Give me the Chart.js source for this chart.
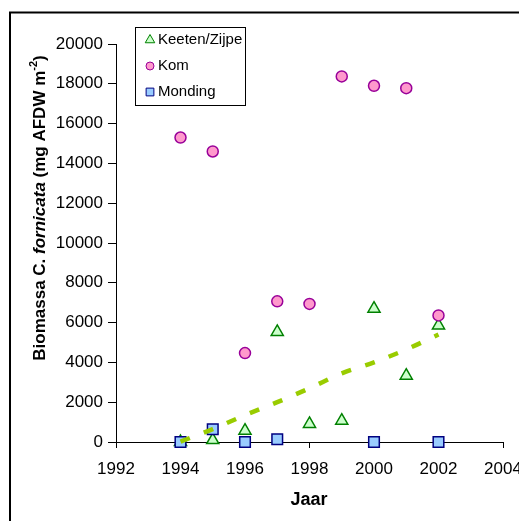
<!DOCTYPE html>
<html>
<head>
<meta charset="utf-8">
<title>Biomassa C. fornicata</title>
<script src="https://cdn.jsdelivr.net/npm/chart.js@4/dist/chart.umd.min.js"></script>
<style>
    html, body { margin: 0; padding: 0; background: #fff; }
    #chart { display: block; }
</style>
</head>
<body>
<canvas id="chart" width="519" height="521"></canvas>
<script>
const FONT = "Arial, 'Liberation Sans', sans-serif";

// sampled years
const years = [1994, 1995, 1996, 1997, 1998, 1999, 2000, 2001, 2002];
const keetenValues = [0, 100, 570, 5530, 910, 1070, 6700, 3330, 5860];
const komValues = [15300, 14600, 4470, 7070, 6940, 18370, 17900, 17780, 6360];
const mondingYears = [1994, 1995, 1996, 1997, 2000, 2002];
const mondingValues = [0, 640, 0, 140, 0, 0];
// trend through the Keeten/Zijpe series
const trendValues = [20, 650, 1350, 2000, 2700, 3450, 4000, 4650, 5400];

const xMin = 1992, xMax = 2004, xStep = 2;
const yMin = 0, yMax = 20000, yStep = 2000;

function toPoints(xs, ys) {
    return ys.map((v, i) => ({ x: xs[i], y: v }));
}

// white background with the outer frame (top and left edges only)
const framePlugin = {
    id: 'frame',
    beforeDraw(chart) {
        const ctx = chart.ctx;
        ctx.save();
        ctx.fillStyle = '#fff';
        ctx.fillRect(0, 0, chart.width, chart.height);
        ctx.strokeStyle = '#000';
        ctx.lineWidth = 2;
        ctx.beginPath();
        ctx.moveTo(10, chart.height + 5);
        ctx.lineTo(10, 12.5);
        ctx.lineTo(chart.width + 5, 12.5);
        ctx.stroke();
        ctx.restore();
    }
};

// legend box inside the plot area
const boxLegend = {
    id: 'boxLegend',
    afterDatasetsDraw(chart) {
        const ctx = chart.ctx;
        const box = { x: 135.5, y: 27.5, w: 110, h: 78 };
        ctx.save();
        ctx.fillStyle = '#fff';
        ctx.fillRect(box.x, box.y, box.w, box.h);
        ctx.strokeStyle = '#000';
        ctx.lineWidth = 1;
        ctx.strokeRect(box.x, box.y, box.w, box.h);

        const items = [0, 1, 2];
        const sizes = [5.5, 4, 5.5];
        items.forEach((idx, i) => {
            const ds = chart.data.datasets[idx];
            const y = 40 + i * 26;
            ctx.fillStyle = ds.backgroundColor;
            ctx.strokeStyle = ds.borderColor;
            Chart.helpers.drawPoint(ctx, {
                pointStyle: ds.pointStyle,
                radius: sizes[i],
                borderWidth: 1.5,
                rotation: 0
            }, 150, y);
            ctx.fillStyle = '#000';
            ctx.font = '15px ' + FONT;
            ctx.textAlign = 'left';
            ctx.textBaseline = 'middle';
            ctx.fillText(ds.label, 158, y);
        });
        ctx.restore();
    }
};

// axis titles, the y title mixes bold, italic and a superscript
const axisTitles = {
    id: 'axisTitles',
    afterDraw(chart) {
        const ctx = chart.ctx;
        ctx.save();
        ctx.fillStyle = '#000';
        ctx.textBaseline = 'middle';

        ctx.font = 'bold 18px ' + FONT;
        ctx.textAlign = 'center';
        ctx.fillText('Jaar', 309, 500);

        const parts = [
            { t: 'Biomassa C. ', f: 'bold 17px ' + FONT, dy: 0 },
            { t: 'fornicata', f: 'italic bold 17px ' + FONT, dy: 0 },
            { t: ' (mg AFDW m', f: 'bold 17px ' + FONT, dy: 0 },
            { t: '-2', f: 'bold 11px ' + FONT, dy: -6 },
            { t: ')', f: 'bold 17px ' + FONT, dy: 0 }
        ];
        let total = 0;
        parts.forEach(p => { ctx.font = p.f; p.w = ctx.measureText(p.t).width; total += p.w; });

        ctx.translate(40, 208);
        ctx.rotate(-Math.PI / 2);
        ctx.textAlign = 'left';
        let x = -total / 2;
        parts.forEach(p => {
            ctx.font = p.f;
            ctx.fillText(p.t, x, p.dy);
            x += p.w;
        });
        ctx.restore();
    }
};

const tickFont = { family: FONT, size: 17 };

new Chart(document.getElementById('chart'), {
    type: 'scatter',
    data: {
        datasets: [
            {
                label: 'Keeten/Zijpe',
                data: toPoints(years, keetenValues),
                pointStyle: 'triangle',
                pointRadius: 7,
                borderWidth: 1.5,
                backgroundColor: '#ccffcc',
                borderColor: '#008000',
                order: 3,
                clip: false
            },
            {
                label: 'Kom',
                data: toPoints(years, komValues),
                pointStyle: 'circle',
                pointRadius: 5.5,
                borderWidth: 1.5,
                backgroundColor: '#ff99cc',
                borderColor: '#990099',
                order: 2,
                clip: false
            },
            {
                label: 'Monding',
                data: toPoints(mondingYears, mondingValues),
                pointStyle: 'rect',
                pointRadius: 7.5,
                borderWidth: 1.5,
                backgroundColor: '#99ccff',
                borderColor: '#000080',
                order: 1,
                clip: false
            },
            {
                label: 'Trend',
                data: toPoints(years, trendValues),
                showLine: true,
                pointRadius: 0,
                borderColor: '#99cc00',
                borderWidth: 4.5,
                borderDash: [10, 15],
                borderCapStyle: 'butt',
                cubicInterpolationMode: 'monotone',
                fill: false,
                order: 0,
                clip: false
            }
        ]
    },
    options: {
        responsive: false,
        animation: false,
        layout: { padding: { top: 44, right: 16, left: 0, bottom: 0 } },
        plugins: {
            legend: { display: false },
            tooltip: { enabled: false }
        },
        scales: {
            x: {
                type: 'linear',
                min: xMin,
                max: xMax,
                ticks: {
                    stepSize: xStep,
                    color: '#000',
                    font: tickFont,
                    padding: 11,
                    maxRotation: 0,
                    callback: v => String(v)
                },
                grid: { drawOnChartArea: false, color: '#000', tickLength: 6 },
                border: { color: '#000', width: 1 },
                afterFit(s) {
                    s.height = 79;
                    s.paddingLeft = 0;
                    s.paddingRight = 0;
                }
            },
            y: {
                min: yMin,
                max: yMax,
                ticks: {
                    stepSize: yStep,
                    color: '#000',
                    font: tickFont,
                    padding: 5,
                    callback: v => String(v)
                },
                grid: { drawOnChartArea: false, color: '#000', tickLength: 8 },
                border: { color: '#000', width: 1 },
                afterFit(s) {
                    s.width = 116;
                    s.paddingTop = 0;
                    s.paddingBottom = 0;
                }
            }
        }
    },
    plugins: [framePlugin, boxLegend, axisTitles]
});
</script>
</body>
</html>
